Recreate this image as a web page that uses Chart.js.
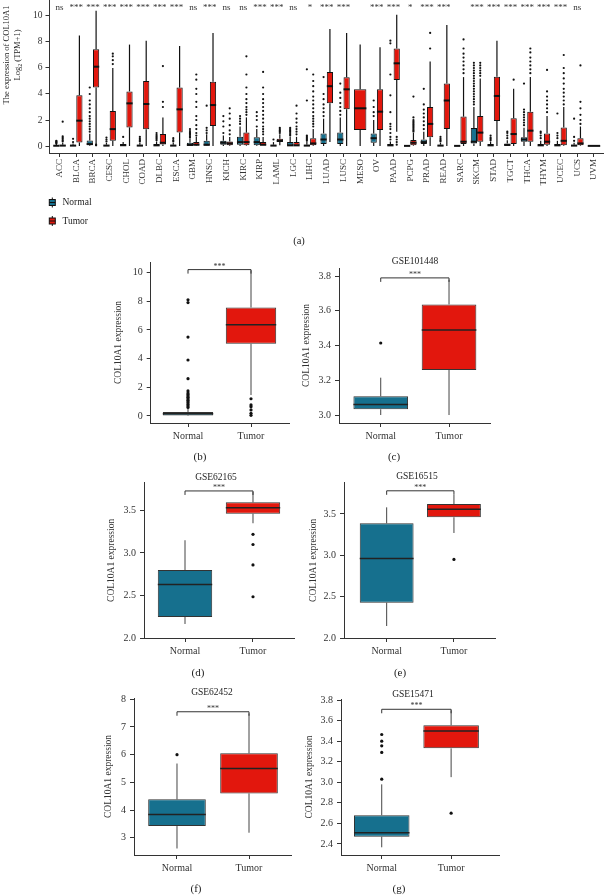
<!DOCTYPE html>
<html><head><meta charset="utf-8">
<script src="https://cdn.jsdelivr.net/npm/chart.js@4/dist/chart.umd.min.js"></script>
<style>
html,body{margin:0;padding:0;background:#fff;}
#wrap{position:relative;width:604px;height:895px;overflow:hidden;background:#fff;}
#wrap canvas{position:absolute;left:0;top:0;}
</style></head><body><div id="wrap"></div>
<script>
const FONT = "'Liberation Serif','DejaVu Serif','Times New Roman',serif";
const groupNames = ['Normal', 'Tumor'];
const groupColors = ['#16708e', '#e2170d'];

// ---------- Panel (a): TCGA pan-cancer ----------
const tcgaCancers = ['ACC','BLCA','BRCA','CESC','CHOL','COAD','DLBC','ESCA','GBM','HNSC','KICH','KIRC','KIRP','LAML','LGC','LIHC','LUAD','LUSC','MESO','OV','PAAD','PCPG','PRAD','READ','SARC','SKCM','STAD','TGCT','THCA','THYM','UCEC','UCS','UVM'];
const tcgaSignif = ['ns','***','***','***','***','***','***','***','ns','***','ns','ns','***','***','ns','*','***','***','','***','***','*','***','***','','***','***','***','***','***','***','ns',''];
// [lower whisker, Q1, median, Q3, upper whisker]
const tcgaNormalStats = [
 [0,0,0.02,0.06,0.15],[0,0,0.03,0.1,0.2],[0,0.05,0.15,0.42,0.95],[0,0,0.03,0.1,0.25],[0,0.02,0.06,0.15,0.3],
 [0,0,0.03,0.1,0.25],[0,0,0.05,0.15,0.35],[0,0,0.03,0.1,0.25],[0,0.02,0.08,0.25,0.55],[0,0.02,0.1,0.4,0.9],
 [0,0.1,0.25,0.4,0.8],[0,0.1,0.3,0.72,1.5],[0,0.05,0.3,0.67,1.3],[0,0,0.03,0.1,0.3],[0,0,0.05,0.3,0.7],
 [0,0,0.03,0.1,0.3],[0,0.15,0.5,0.97,2.1],[0,0.15,0.5,1.03,2.2],null,[0,0.25,0.6,0.97,2.0],
 [0,0,0.05,0.15,0.35],[0,0,0.01,0.03,0.06],[0,0.15,0.3,0.5,1.1],[0,0,0.03,0.1,0.25],[0,0,0.01,0.03,0.05],
 [0,0.2,0.33,1.38,3.0],[0,0,0.05,0.15,0.35],[0,0.02,0.08,0.2,0.45],[0,0.33,0.5,0.67,1.4],[0,0,0.05,0.15,0.4],
 [0,0,0.05,0.15,0.4],[0,0,0.03,0.1,0.25],null
];
const tcgaTumorStats = [
 [0,0,0.03,0.1,0.25],[0,0.26,1.95,3.9,8.5],[0,4.5,6.1,7.45,10.4],[0,0.4,1.3,2.7,6.0],[0,1.43,3.28,4.2,7.8],
 [0,1.28,3.23,5.0,8.1],[0,0.12,0.25,0.92,2.2],[0,1.03,2.82,4.5,7.7],[0,0.03,0.1,0.3,0.7],[0,1.54,3.15,4.95,8.7],
 [0,0.05,0.2,0.35,0.7],[0,0.05,0.3,1.03,2.2],[0,0,0.1,0.3,0.7],[0.05,0.3,0.4,0.55,0.9],[0,0,0.05,0.3,0.7],
 [0,0.05,0.2,0.6,1.3],[0.3,3.28,4.6,5.7,9.0],[0,2.82,4.36,5.28,8.7],[0,1.23,2.9,4.36,7.8],[0,1.23,2.64,4.36,7.6],
 [1.1,5.08,6.36,7.5,10.1],[0,0.05,0.25,0.46,1.0],[0,0.67,1.7,3.0,6.5],[0,1.3,3.5,4.8,9.3],[0,0.15,0.33,2.26,5.3],
 [0,0.33,1.03,2.3,5.2],[0,1.92,3.85,5.33,8.1],[0,0.15,0.92,2.13,4.4],[0,0.33,1.18,2.64,5.3],[0,0.1,0.33,0.97,2.3],
 [0,0.05,0.4,1.43,3.0],[0,0.05,0.2,0.6,1.5],[0,0,0.01,0.03,0.06]
];
const tcgaNormalOutliers = [
 [0.2,0.25,0.3,0.35,0.4],[0.3,0.55],[1.1,1.3,1.5,1.7,1.9,2.1,2.3,2.6,2.9,3.2,3.5,4.0,4.5],[0.35,0.5,0.65],[0.7],
 [0.35,0.45,0.55,0.7],[0.45,0.55,0.65,0.75,0.85,1.0],[0.35,0.45,0.6],[0.65,0.75,0.85,0.95,1.05,1.15,1.3],[1.0,1.2,1.4,3.1],
 [1.0,1.5,1.9,2.3],[1.7,1.9,2.1,2.3],[1.5,2.0,2.3,2.6],[0.5],[0.8,0.9,1.0,1.1,1.2,1.3,1.4],
 [0.4,0.5,0.6,0.7,0.8,3.5,5.9],[2.3,2.6,2.9,3.2,3.6,4.0,5.3],[2.4,2.7,3.0,3.3,3.7,4.1,4.8],[],[2.3,2.6,3.0,3.5],
 [0.5,0.7,1.0,1.3,1.5,1.7,2.6,3.9,5.5,7.9,8.1],[],[1.3,1.6,1.9,2.2,2.5,2.8,3.2,4.4],[0.35,0.45,0.55,0.7],[],
 [3.2,3.4,3.6,3.8,4.0,4.2,4.4,4.6,4.8,5.0,5.2,5.4,5.6,5.8,6.0,6.2,6.4],[0.45,0.55,0.65,0.8],[0.6,0.8,1.0,1.1],[1.6,1.8,2.0,2.2,2.4,2.6,2.8,4.8],[0.6,0.8,1.0,1.1],
 [0.6,0.8,1.0,2.5],[0.4,0.7,2.1],[]
];
const tcgaTumorOutliers = [
 [0.35,0.45,0.55,0.65,0.75,1.87],[],[0.05,0.1],[6.3,6.6,6.9,7.1],[],
 [],[3.0,3.4,6.15],[],[0.8,1.0,1.3,1.6,2.0,2.3,3.0,3.4,4.0,4.4,5.1,5.5],[],
 [0.9,1.2,1.6,2.1,2.5,2.9],[2.4,2.6,2.8,3.0,3.3,3.6,4.0,4.5,5.5,6.9],[0.9,1.1,1.3,1.5,1.8,2.1,2.4,2.7,3.0,3.3,3.6,4.0,4.5,5.7],[1.0,1.1,1.2,1.3,1.4],[0.9,1.1,1.3,1.5,1.8,2.1,2.5,3.1],
 [1.5,1.7,1.9,2.1,2.3,2.6,2.9,3.2,3.5,3.8,4.2,4.6,5.0,5.5],[],[],[],[],
 [0.1,0.3,0.5,0.7],[1.1,1.2,1.3,1.4,1.5,1.6,1.7,1.8,1.9,2.0,2.2,3.8],[7.5,8.7],[],[5.6,5.9,6.2,6.5,6.8,7.1,7.5,8.2],
 [5.4,5.6,5.8,6.0,6.2,6.4],[],[5.1],[5.6,5.9,6.2,6.5,6.8,7.2,7.5],[2.6,2.9,3.2,3.5,3.8,4.2,5.85],
 [3.2,3.5,3.8,4.1,4.4,4.8,5.2,5.6,6.0,7.0],[1.7,2.0,2.4,2.9,3.4,6.2],[]
];
const tcgaYTicks = [0,2,4,6,8,10];

// ---------- Panels (b)-(g) ----------
const panelBNormal = [0, 0.04, 0.15, 0.28, 0.5];
const panelBTumor  = [1.46, 5.03, 6.36, 7.56, 10.15];
const panelBNormalOut = [0.6,0.7,0.8,0.9,1.0,1.1,1.2,1.3,1.4,1.5,1.6,1.75,2.6,3.9,5.5,7.9,8.1];
const panelBTumorOut  = [1.2,0.77,0.65,0.42,0.19,0.05];
const panelBTicks = [0,2,4,6,8,10];
const panelBTickLabels = ['0','2','4','6','8','10'];

const panelCNormal = [3.0, 3.033, 3.06, 3.108, 3.215];
const panelCTumor  = [3.0, 3.26, 3.49, 3.637, 3.78];
const panelCNormalOut = [3.415];
const panelCTumorOut  = [];
const panelCTicks = [3.0,3.2,3.4,3.6,3.8];
const panelCTickLabels = ['3.0','3.2','3.4','3.6','3.8'];

const panelDNormal = [2.165, 2.247, 2.63, 2.80, 3.15];
const panelDTumor  = [3.35, 3.462, 3.533, 3.596, 3.72];
const panelDNormalOut = [];
const panelDTumorOut  = [3.22, 3.10, 2.86, 2.485];
const panelDTicks = [2.0,2.5,3.0,3.5];
const panelDTickLabels = ['2.0','2.5','3.0','3.5'];

const panelENormal = [2.145, 2.427, 2.96, 3.387, 3.58];
const panelETumor  = [3.27, 3.46, 3.556, 3.62, 3.73];
const panelENormalOut = [];
const panelETumorOut  = [2.95];
const panelETicks = [2.0,2.5,3.0,3.5];
const panelETickLabels = ['2.0','2.5','3.0','3.5'];

const panelFNormal = [2.61, 3.42, 3.84, 4.385, 5.68];
const panelFTumor  = [3.18, 4.6, 5.5, 6.05, 7.49];
const panelFNormalOut = [6.0];
const panelFTumorOut  = [];
const panelFTicks = [3,4,5,6,7,8];
const panelFTickLabels = ['3','4','5','6','7','8'];

const panelGNormal = [2.368, 2.471, 2.51, 2.68, 2.98];
const panelGTumor  = [3.05, 3.33, 3.50, 3.555, 3.70];
const panelGNormalOut = [3.03, 3.29, 3.355, 3.40, 3.465];
const panelGTumorOut  = [2.70];
const panelGTicks = [2.4,2.6,2.8,3.0,3.2,3.4,3.6,3.8];
const panelGTickLabels = ['2.4','2.6','2.8','3.0','3.2','3.4','3.6','3.8'];

const gseTitles = ['', 'GSE101448', 'GSE62165', 'GSE16515', 'GSE62452', 'GSE15471'];
const panelLetters = ['(b)','(c)','(d)','(e)','(f)','(g)'];
const sigSub = ['***','***','***','***','***','***'];

// ---------- drawing helpers ----------
Chart.defaults.font.family = FONT;
Chart.defaults.color = '#333';
const wrap = document.getElementById('wrap');
const W = 604, H = 895;

function line(ctx, x1, y1, x2, y2) { ctx.beginPath(); ctx.moveTo(x1, y1); ctx.lineTo(x2, y2); ctx.stroke(); }

function makeBoxChart(cfg) {
  const canvas = document.createElement('canvas');
  canvas.width = W; canvas.height = H;
  wrap.appendChild(canvas);
  const A = cfg.area;
  const datasets = cfg.datasets.map(ds => ({
    label: ds.label,
    data: cfg.xValues.map((xv, i) => ({ x: xv, y: ds.stats[i] ? [ds.stats[i][1], ds.stats[i][3]] : null })),
    backgroundColor: ds.color,
    borderColor: cfg.boxBorder,
    borderWidth: cfg.boxBorderWidth,
    borderSkipped: false,
    categoryPercentage: cfg.catPct,
    barPercentage: cfg.barPct,
    skipNull: true
  }));
  const zeroPad = s => { s.paddingTop = 0; s.paddingBottom = 0; s.paddingLeft = 0; s.paddingRight = 0; };
  const plugin = {
    id: 'boxparts',
    beforeDatasetsDraw(chart) {
      const ctx = chart.ctx, ys = chart.scales.y;
      ctx.save();
      ctx.strokeStyle = cfg.whiskerColor; ctx.lineWidth = cfg.whiskerWidth;
      cfg.datasets.forEach((ds, d) => {
        const meta = chart.getDatasetMeta(d);
        ds.stats.forEach((st, i) => {
          if (!st) return;
          const x = meta.data[i].x;
          line(ctx, x, ys.getPixelForValue(st[0]), x, ys.getPixelForValue(st[1]));
          line(ctx, x, ys.getPixelForValue(st[3]), x, ys.getPixelForValue(st[4]));
        });
      });
      ctx.restore();
    },
    afterDatasetsDraw(chart) {
      const ctx = chart.ctx, ys = chart.scales.y, xs = chart.scales.x;
      ctx.save();
      cfg.datasets.forEach((ds, d) => {
        const meta = chart.getDatasetMeta(d);
        ds.stats.forEach((st, i) => {
          if (!st) return;
          const el = meta.data[i];
          const x = el.x, w = el.width;
          ctx.strokeStyle = cfg.medianColor; ctx.lineWidth = cfg.medianWidth;
          const my = ys.getPixelForValue(st[2]);
          line(ctx, x - w / 2, my, x + w / 2, my);
          ctx.fillStyle = '#111';
          (ds.outliers[i] || []).forEach(v => {
            ctx.beginPath(); ctx.arc(x, ys.getPixelForValue(v), cfg.outlierRadius, 0, Math.PI * 2); ctx.fill();
          });
        });
      });
      // significance bracket
      if (cfg.bracket) {
        const x1 = xs.getPixelForValue(cfg.xValues[0]), x2 = xs.getPixelForValue(cfg.xValues[1]);
        const yb = ys.getPixelForValue(cfg.bracket.value);
        ctx.strokeStyle = '#333'; ctx.lineWidth = 1;
        ctx.beginPath(); ctx.moveTo(x1, yb + 4); ctx.lineTo(x1, yb); ctx.lineTo(x2, yb); ctx.lineTo(x2, yb + 4); ctx.stroke();
        ctx.fillStyle = '#333'; ctx.font = '8px ' + FONT; ctx.textAlign = 'center'; ctx.textBaseline = 'alphabetic';
        ctx.fillText(cfg.bracket.text, (x1 + x2) / 2, yb - 1);
      }
      // significance labels above categories
      if (cfg.sigLabels) {
        ctx.fillStyle = '#333'; ctx.font = '9px ' + FONT; ctx.textAlign = 'center'; ctx.textBaseline = 'alphabetic';
        cfg.sigLabels.forEach((t, i) => { if (t) ctx.fillText(t, xs.getPixelForValue(cfg.xValues[i]), cfg.sigY); });
      }
      ctx.restore();
    },
    afterDraw(chart) {
      const ctx = chart.ctx;
      ctx.save();
      (cfg.texts || []).forEach(t => {
        ctx.fillStyle = t.color || '#222';
        ctx.font = t.size + 'px ' + FONT;
        ctx.textAlign = t.align || 'center'; ctx.textBaseline = 'middle';
        ctx.fillText(t.text, t.x, t.y);
      });
      if (cfg.extraDraw) cfg.extraDraw(ctx, chart);
      ctx.restore();
    }
  };
  const axisGrid = { display: true, drawOnChartArea: false, drawTicks: true, tickLength: 4, color: '#333', lineWidth: 1, offset: false };
  const axisBorder = { display: true, color: '#333', width: 1 };
  new Chart(canvas, {
    type: 'bar',
    data: { datasets },
    options: {
      responsive: false, animation: false, devicePixelRatio: 1,
      layout: { autoPadding: false, padding: { left: A.left - cfg.yWidth, top: A.top, right: W - A.right, bottom: H - A.bottom - cfg.xHeight } },
      plugins: { legend: { display: false }, tooltip: { enabled: false }, title: { display: false } },
      scales: {
        x: {
          type: 'linear', min: cfg.xMin, max: cfg.xMax, bounds: 'data', offset: false,
          grid: axisGrid, border: axisBorder,
          ticks: { autoSkip: false, minRotation: cfg.xRotation, maxRotation: cfg.xRotation, padding: cfg.xTickPad,
                   font: { size: cfg.xFont }, color: '#333', callback: (v, i) => cfg.xLabels[i] },
          afterBuildTicks: s => { s.ticks = cfg.xValues.map(v => ({ value: v })); },
          afterFit: s => { s.height = cfg.xHeight; zeroPad(s); }
        },
        y: {
          type: 'linear', min: cfg.yMin, max: cfg.yMax, bounds: 'data', beginAtZero: false,
          grid: axisGrid, border: axisBorder,
          ticks: { padding: cfg.yTickPad, font: { size: cfg.yFont }, color: '#333', callback: (v, i) => cfg.yTickLabels[i] },
          title: cfg.yTitle ? { display: true, text: cfg.yTitle, font: { size: 9.5, lineHeight: 1.2 }, color: '#333', padding: { top: 0, bottom: 0 } } : { display: false },
          afterBuildTicks: s => { s.ticks = cfg.yTicks.map(v => ({ value: v })); },
          afterFit: s => { s.width = cfg.yWidth; zeroPad(s); }
        }
      }
    },
    plugins: [plugin]
  });
}

// ---------- Panel (a) ----------
const tcgaX = tcgaCancers.map((c, i) => i + 1);
makeBoxChart({
  area: { left: 49.5, top: 0, right: 604, bottom: 153 },
  yWidth: 49.5, xHeight: 40,
  xMin: 0.4, xMax: 33.6, yMin: -0.538, yMax: 11.23,
  xValues: tcgaX, xLabels: tcgaCancers, xRotation: 90, xFont: 9, xTickPad: 2,
  yTicks: tcgaYTicks, yTickLabels: tcgaYTicks.map(String), yFont: 9.5, yTickPad: 3,
  catPct: 0.76, barPct: 0.98,
  boxBorder: '#111', boxBorderWidth: 1, whiskerColor: '#111', whiskerWidth: 1.2,
  medianColor: '#111', medianWidth: 2, outlierRadius: 1.1,
  datasets: [
    { label: groupNames[0], color: groupColors[0], stats: tcgaNormalStats, outliers: tcgaNormalOutliers },
    { label: groupNames[1], color: groupColors[1], stats: tcgaTumorStats, outliers: tcgaTumorOutliers }
  ],
  sigLabels: tcgaSignif, sigY: 10,
  texts: [
    { text: groupNames[0], x: 62.5, y: 202.5, size: 9.5, align: 'left' },
    { text: groupNames[1], x: 62.5, y: 221, size: 9.5, align: 'left' },
    { text: '(a)', x: 299, y: 241, size: 10.5 }
  ],
  extraDraw(ctx) {
    // legend glyphs
    [[202.5, groupColors[0]], [221, groupColors[1]]].forEach(([y, c]) => {
      ctx.strokeStyle = '#111'; ctx.lineWidth = 1;
      line(ctx, 52.3, y - 5, 52.3, y + 5);
      ctx.fillStyle = c; ctx.fillRect(49.3, y - 3, 6, 6); ctx.strokeRect(49.3, y - 3, 6, 6);
      line(ctx, 49.3, y, 55.3, y);
    });
    // y axis title (two lines, rotated)
    ctx.save();
    ctx.translate(6.5, 55); ctx.rotate(-Math.PI / 2);
    ctx.fillStyle = '#222'; ctx.textAlign = 'center'; ctx.textBaseline = 'middle';
    ctx.font = '8.5px ' + FONT;
    ctx.fillText('The expression of COL10A1', 0, 0);
    ctx.restore();
    ctx.save();
    ctx.translate(17.5, 55); ctx.rotate(-Math.PI / 2);
    ctx.fillStyle = '#222'; ctx.textBaseline = 'middle'; ctx.textAlign = 'left';
    ctx.font = '8.5px ' + FONT;
    const p1 = 'Log', p3 = ' (TPM+1)';
    const w1 = ctx.measureText(p1).width;
    ctx.font = '6px ' + FONT; const w2 = ctx.measureText('2').width;
    ctx.font = '8.5px ' + FONT; const w3 = ctx.measureText(p3).width;
    const start = -(w1 + w2 + w3) / 2;
    ctx.fillText(p1, start, 0);
    ctx.font = '6px ' + FONT; ctx.fillText('2', start + w1, 2.5);
    ctx.font = '8.5px ' + FONT; ctx.fillText(p3, start + w1 + w2, 0);
    ctx.restore();
  }
});

// ---------- Panels (b)-(g) ----------
const subPanels = [
  { area: { left: 150.7, top: 262, right: 289, bottom: 423 }, xMin: 0.408, xMax: 2.603, yMin: -0.488, yMax: 10.73,
    stats: [panelBNormal, panelBTumor], outs: [panelBNormalOut, panelBTumorOut], ticks: panelBTicks, tickLabels: panelBTickLabels,
    bracket: 10.2, titleOff: 32.5, titlePos: null, letterPos: [200, 457] },
  { area: { left: 339, top: 268, right: 490, bottom: 423 }, xMin: 0.389, xMax: 2.60, yMin: 2.954, yMax: 3.847,
    stats: [panelCNormal, panelCTumor], outs: [panelCNormalOut, panelCTumorOut], ticks: panelCTicks, tickLabels: panelCTickLabels,
    bracket: 3.79, titleOff: 32.3, titlePos: [415, 261], letterPos: [394, 457] },
  { area: { left: 144, top: 482.7, right: 294, bottom: 638 }, xMin: 0.397, xMax: 2.603, yMin: 2.0, yMax: 3.827,
    stats: [panelDNormal, panelDTumor], outs: [panelDNormalOut, panelDTumorOut], ticks: panelDTicks, tickLabels: panelDTickLabels,
    bracket: 3.73, titleOff: 32.3, titlePos: [216, 477], letterPos: [198, 673] },
  { area: { left: 344, top: 482.7, right: 495, bottom: 638 }, xMin: 0.366, xMax: 2.61, yMin: 2.0, yMax: 3.878,
    stats: [panelENormal, panelETumor], outs: [panelENormalOut, panelETumorOut], ticks: panelETicks, tickLabels: panelETickLabels,
    bracket: 3.78, titleOff: 30.7, titlePos: [417, 476], letterPos: [400, 673] },
  { area: { left: 134, top: 698, right: 291, bottom: 855 }, xMin: 0.403, xMax: 2.583, yMin: 2.375, yMax: 8.047,
    stats: [panelFNormal, panelFTumor], outs: [panelFNormalOut, panelFTumorOut], ticks: panelFTicks, tickLabels: panelFTickLabels,
    bracket: 7.55, titleOff: 25.7, titlePos: [212, 692], letterPos: [196, 889] },
  { area: { left: 341, top: 699, right: 499, bottom: 855 }, xMin: 0.413, xMax: 2.69, yMin: 2.293, yMax: 3.81,
    stats: [panelGNormal, panelGTumor], outs: [panelGNormalOut, panelGTumorOut], ticks: panelGTicks, tickLabels: panelGTickLabels,
    bracket: 3.71, titleOff: 31.7, titlePos: [413, 694], letterPos: [399, 889] }
];

subPanels.forEach((p, k) => {
  const texts = [{ text: panelLetters[k], x: p.letterPos[0], y: p.letterPos[1], size: 11 }];
  if (gseTitles[k]) texts.push({ text: gseTitles[k], x: p.titlePos[0], y: p.titlePos[1], size: 9.5 });
  makeBoxChart({
    area: p.area, yWidth: p.titleOff + 5.7, xHeight: 30,
    xMin: p.xMin, xMax: p.xMax, yMin: p.yMin, yMax: p.yMax,
    xValues: [1, 2], xLabels: groupNames, xRotation: 0, xFont: 10, xTickPad: 3,
    yTicks: p.ticks, yTickLabels: p.tickLabels, yFont: 10, yTickPad: 4,
    yTitle: 'COL10A1 expression',
    catPct: 1, barPct: 0.8,
    boxBorder: '#333', boxBorderWidth: 1, whiskerColor: '#444', whiskerWidth: 1,
    medianColor: '#222', medianWidth: 1.5, outlierRadius: 1.6,
    datasets: [{ label: 'COL10A1', color: groupColors, stats: p.stats, outliers: p.outs }],
    bracket: { value: p.bracket, text: sigSub[k] },
    texts
  });
});
</script>
</body></html>
